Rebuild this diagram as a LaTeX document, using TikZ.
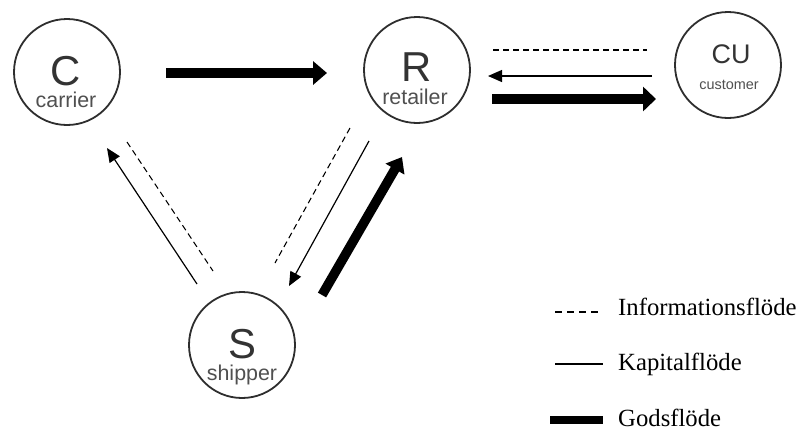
\documentclass[tikz,border=0pt]{standalone}
\usepackage{fontspec}
\setmainfont{Liberation Serif}
\newfontfamily\lsans{Liberation Sans}
\usetikzlibrary{arrows.meta}
\definecolor{ring}{HTML}{2E2E2E}
\definecolor{lettergray}{HTML}{333333}
\definecolor{subgray}{HTML}{505050}
\tikzset{
  actor/.style={circle, draw=ring, line width=1.8bp, minimum size=106bp, inner sep=0pt},
  bigletter/.style={font=\lsans\fontsize{42}{42}\selectfont, text=lettergray, anchor=base, inner sep=0pt},
  culetter/.style={font=\lsans\fontsize{27}{27}\selectfont, text=lettergray, anchor=base, inner sep=0pt},
  sublabel/.style={font=\lsans\fontsize{21.5}{21.5}\selectfont, text=subgray, anchor=base, inner sep=0pt},
  smalllabel/.style={font=\lsans\fontsize{14.5}{14.5}\selectfont, text=subgray, anchor=base, inner sep=0pt},
  infoflow/.style={line width=1.1bp, dash pattern=on 6bp off 4bp},
  capflow/.style={line width=1.2bp, -{Triangle[length=14bp,width=12bp]}},
  goodsflow/.style={line width=9.5bp, -{Triangle[length=14bp,width=23bp]}},
  legendtext/.style={font=\fontsize{24.8}{24.8}\selectfont, anchor=base west, inner sep=0pt},
}
\begin{document}
\begin{tikzpicture}[x=1bp, y=-1bp]
\useasboundingbox (0,0) rectangle (798,430);
\fill[white] (0,0) rectangle (798,430);

% actors
\node[actor] (C) at (67,72) {};
\node[actor] (R) at (417,70) {};
\node[actor] (CU) at (728,65) {};
\node[actor] (S) at (242,345) {};

\node[bigletter] (Cl) at (66,85) {C};
\node[sublabel] (Cs) at (66,107) {carrier};
\node[bigletter] (Rl) at (417,81) {R};
\node[sublabel] (Rs) at (415,104) {retailer};
\node[culetter] (CUl) at (731,63) {CU};
\node[smalllabel] (CUs) at (729,89) {customer};
\node[bigletter] (Sl) at (242,358) {S};
\node[sublabel] (Ss) at (242,380) {shipper};

% arrow end points
\coordinate (crA) at (166,73);
\coordinate (crB) at (327,73);
\coordinate (rcuD1) at (493,50);
\coordinate (rcuD2) at (647,50);
\coordinate (rcuK1) at (652,76);
\coordinate (rcuK2) at (488,76);
\coordinate (rcuG1) at (492,99);
\coordinate (rcuG2) at (656,99);
\coordinate (csK1) at (197,284);
\coordinate (csK2) at (107,148);
\coordinate (csD1) at (127,142);
\coordinate (csD2) at (213,271);
\coordinate (rsD1) at (350,128);
\coordinate (rsD2) at (275,263);
\coordinate (rsK1) at (369,141);
\coordinate (rsK2) at (289,286);
\coordinate (rsG1) at (322,295);
\coordinate (rsG2) at (402,157);

% flows
\draw[goodsflow] (crA) -- (crB);
\draw[infoflow] (rcuD1) -- (rcuD2);
\draw[capflow] (rcuK1) -- (rcuK2);
\draw[goodsflow, line width=10bp, -{Triangle[length=13bp,width=24bp]}] (rcuG1) -- (rcuG2);
\draw[capflow] (csK1) -- (csK2);
\draw[infoflow] (csD1) -- (csD2);
\draw[infoflow] (rsD1) -- (rsD2);
\draw[capflow] (rsK1) -- (rsK2);
\draw[goodsflow, -{Triangle[length=14bp,width=21bp]}] (rsG1) -- (rsG2);

% legend
\coordinate (lgI1) at (555,312);
\coordinate (lgI2) at (603,312);
\coordinate (lgK1) at (555,364);
\coordinate (lgK2) at (603,364);
\coordinate (lgG1) at (550,420);
\coordinate (lgG2) at (603,420);
\draw[line width=1.1bp, dash pattern=on 7bp off 5bp] (lgI1) -- (lgI2);
\draw[line width=1.2bp] (lgK1) -- (lgK2);
\draw[line width=8bp] (lgG1) -- (lgG2);
\node[legendtext] (tI) at (618,315) {Informationsflöde};
\node[legendtext] (tK) at (618,370) {Kapitalflöde};
\node[legendtext] (tG) at (618,426) {Godsflöde};
\end{tikzpicture}
\end{document}
